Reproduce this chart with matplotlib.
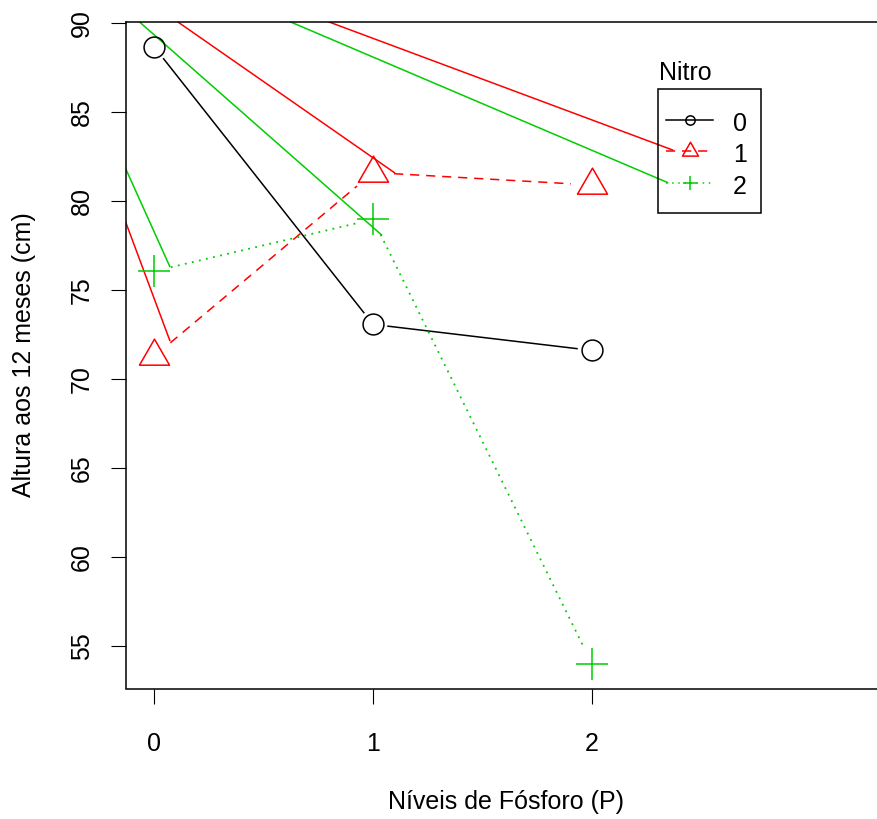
import numpy as np
import matplotlib
matplotlib.use('Agg')
import matplotlib.pyplot as plt
from matplotlib.path import Path
from matplotlib.lines import Line2D
from matplotlib.patches import Rectangle

plt.rcParams['font.family'] = ['Liberation Sans', 'DejaVu Sans']

# data
niveis_p = [0, 1, 2]
altura_n0 = [88.63, 73.05, 71.59]
altura_n1 = [71.26, 81.58, 80.88]
altura_n2 = [76.04, 78.95, 53.99]
nitro_levels = ['0', '1', '2']
y_ticks = [55, 60, 65, 70, 75, 80, 85, 90]

# stray solid strokes that show up in the original render
red_extra = [[(-0.131, 78.80), (0.072, 72.11)],
             [(0.106, 90.05), (1.100, 81.55)],
             [(0.795, 90.05), (2.372, 82.83)]]
green_extra = [[(-0.131, 81.80), (0.072, 76.27)],
               [(-0.069, 90.05), (1.041, 78.05)],
               [(0.620, 90.05), (2.349, 81.00)]]

RED = '#FF0000'
GREEN = '#00CD00'
W, H = 877, 819
FS = 18

fig = plt.figure(figsize=(W / 100, H / 100), dpi=100)
ax = fig.add_axes([125.7 / W, 1 - 688.5 / H, (886 - 125.7) / W, (688.5 - 22.3) / H])

allv = altura_n0 + altura_n1 + altura_n2
pad = 0.04 * (max(allv) - min(allv))
ax.set_ylim(min(allv) - pad, max(allv) + pad)
ax.set_xlim(-0.1307, 3.344)

# triangle with its centroid at the point (like R pch=2)
tri = Path([(0, 1), (-0.866, -0.5), (0.866, -0.5), (0, 1)],
           [Path.MOVETO, Path.LINETO, Path.LINETO, Path.CLOSEPOLY])


def gapped(xs, ys, gap):
    pts = ax.transData.transform(np.column_stack([xs, ys]))
    inv = ax.transData.inverted()
    segs = []
    for a, b in zip(pts[:-1], pts[1:]):
        d = b - a
        u = d / np.hypot(*d)
        segs.append(inv.transform(np.array([a + u * gap, b - u * gap])))
    return segs


lw = 1.1
for seg in red_extra:
    ax.plot(*zip(*seg), color=RED, lw=lw, solid_capstyle='butt')
for seg in green_extra:
    ax.plot(*zip(*seg), color=GREEN, lw=lw, solid_capstyle='butt')

for s in gapped(niveis_p, altura_n0, 15):
    ax.plot(s[:, 0], s[:, 1], color='black', lw=lw)
for s in gapped(niveis_p, altura_n1, 21):
    ax.plot(s[:, 0], s[:, 1], color=RED, lw=lw, linestyle=(0, (6, 4.5)))
for s in gapped(niveis_p, altura_n2, 17):
    ax.plot(s[:, 0], s[:, 1], color=GREEN, lw=1.3, linestyle=(0, (1, 3)))

ax.plot(niveis_p, altura_n0, linestyle='none', marker='o', ms=15,
        mfc='none', mec='black', mew=lw)
ax.plot(niveis_p, altura_n1, linestyle='none', marker=tri, ms=25,
        mfc='none', mec=RED, mew=lw)
ax.plot(niveis_p, altura_n2, linestyle='none', marker='+', ms=23.5,
        mec=GREEN, mew=lw)

# axes
for sp in ax.spines.values():
    sp.set_linewidth(lw)
ax.set_xticks(niveis_p)
ax.set_xticklabels([str(v) for v in niveis_p], fontsize=FS)
ax.set_yticks(y_ticks)
ax.set_yticklabels([str(v) for v in y_ticks], fontsize=FS, rotation=90, va='center')
ax.tick_params(axis='x', length=10.8, width=0.8, pad=20.5)
ax.tick_params(axis='y', length=10.8, width=0.8, pad=12)

fig.text(24 / W, 1 - 355 / H, 'Altura aos 12 meses (cm)', rotation=90,
         ha='center', va='center', fontsize=FS)
fig.text(506 / W, 1 - 801.7 / H, 'Níveis de Fósforo (P)',
         ha='center', va='center', fontsize=FS)


# legend drawn by hand (title sits above the box, as in R)
def fx(x):
    return x / W


def fy(y):
    return 1 - y / H


fig.add_artist(Rectangle((fx(657.7), fy(212.7)), (761 - 657.7) / W, (212.7 - 89) / H,
                         transform=fig.transFigure, fill=False, lw=lw, ec='black'))
fig.text(fx(659), fy(80), 'Nitro', ha='left', va='baseline', fontsize=FS)
leg_rows = [119.5, 150.5, 182.7]
leg_styles = [dict(color='black', linestyle='-', marker='o', ms=6.7),
              dict(color=RED, linestyle=(0, (6, 4.5)), marker=tri, ms=13.3),
              dict(color=GREEN, linestyle=(0, (1, 3)), marker='+', ms=9.6)]
for row, lab, st in zip(leg_rows, nitro_levels, leg_styles):
    fig.add_artist(Line2D([fx(665.7), fx(713.3)], [fy(row), fy(row)],
                          transform=fig.transFigure, color=st['color'],
                          linestyle=st['linestyle'], lw=lw))
    fig.add_artist(Line2D([fx(689.5)], [fy(row)], transform=fig.transFigure,
                          linestyle='none', marker=st['marker'], ms=st['ms'],
                          mfc='none', mec=st['color'], mew=lw))
    fig.text(fx(733), fy(row + 4.5), lab, ha='left', va='center', fontsize=FS)

fig.savefig('out.png', dpi=100)
